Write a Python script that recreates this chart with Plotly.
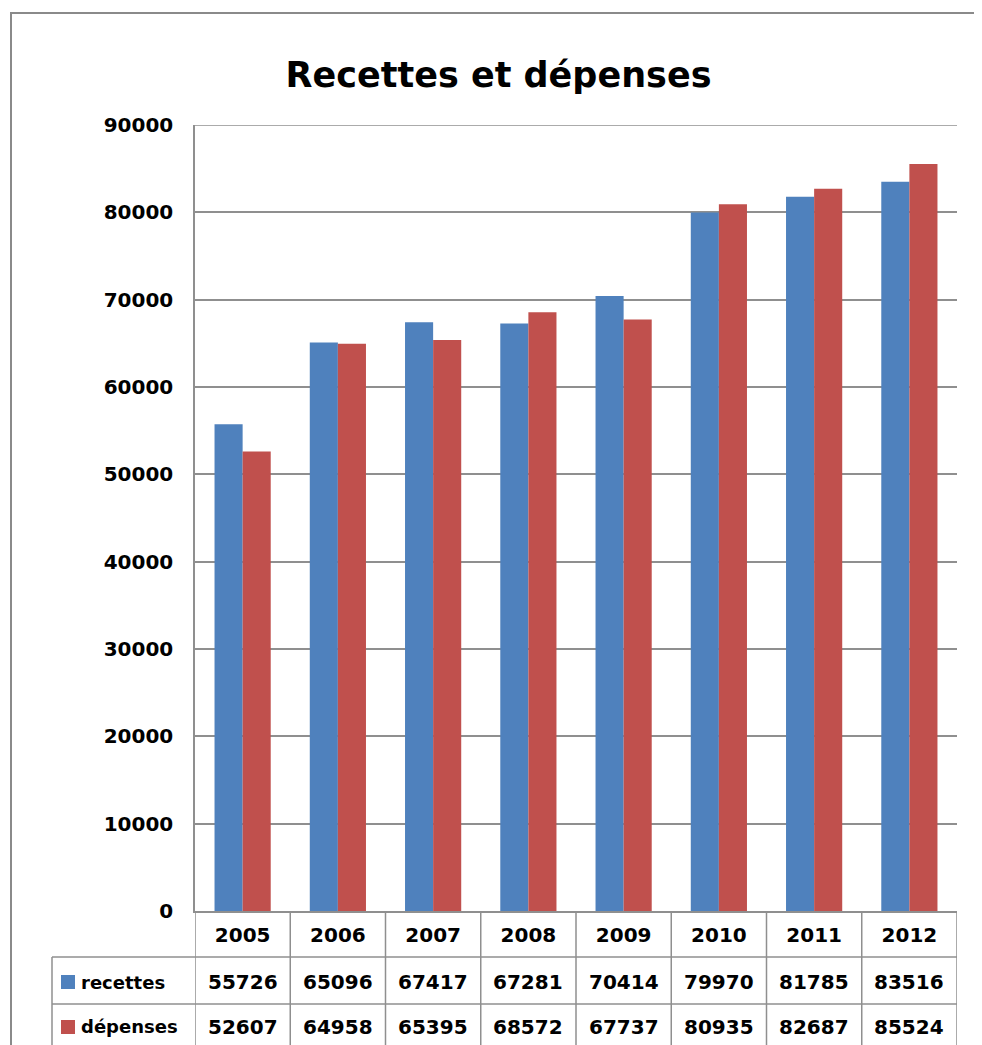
import plotly.graph_objects as go

years = ["2005", "2006", "2007", "2008", "2009", "2010", "2011", "2012"]
recettes = [55726, 65096, 67417, 67281, 70414, 79970, 81785, 83516]
depenses = [52607, 64958, 65395, 68572, 67737, 80935, 82687, 85524]
series_names = ["recettes", "dépenses"]
series_colors = ["#4F81BD", "#C0504D"]
title_text = "Recettes et dépenses"
y_max = 90000
y_step = 10000

# page body has an 8px margin: work in reference pixels, shifted by 8
OFF = 8
W, H = 982 - OFF, 1045 - OFF
L, T = 195 - OFF, 125 - OFF
BOTTOM = 911 - OFF
RIGHT = 957 - OFF
R, B = W - RIGHT, H - BOTTOM
PW, PH = W - L - R, H - T - B

def px(X):
    return (X - OFF - L) / PW

def py(Y):
    return (BOTTOM - (Y - OFF)) / PH

FONT = "DejaVu Sans"
GRID = "#8f8f8f"

fig = go.Figure()
for name, vals, col in zip(series_names, [recettes, depenses], series_colors):
    fig.add_trace(go.Bar(x=years, y=vals, name=name, marker=dict(color=col, line=dict(width=0))))

shapes = []
# outer chart frame
shapes.append(dict(type="rect", xref="paper", yref="paper", x0=px(11), x1=px(1010), y0=py(1100), y1=py(13),
                   line=dict(color="#8a8a8a", width=2), layer="above"))
# top gridline at range maximum
shapes.append(dict(type="line", xref="paper", yref="y", x0=0, x1=1, y0=y_max, y1=y_max,
                   line=dict(color=GRID, width=1.5)))
# table vertical lines at category boundaries
n = len(years)
for i in range(n + 1):
    shapes.append(dict(type="line", xref="x", yref="paper", x0=i - 0.5, x1=i - 0.5, y0=py(1070), y1=0,
                       line=dict(color=GRID, width=1.5)))
# table horizontal lines
for Y in [957, 1004]:
    shapes.append(dict(type="line", xref="paper", yref="paper", x0=px(52), x1=1, y0=py(Y), y1=py(Y),
                       line=dict(color=GRID, width=1.5)))
# left border of label column
shapes.append(dict(type="line", xref="paper", yref="paper", x0=px(52), x1=px(52), y0=py(1070), y1=py(957),
                   line=dict(color=GRID, width=1.5)))

annotations = []
row_centers = [982, 1027]
for name, vals, col, Yc in zip(series_names, [recettes, depenses], series_colors, row_centers):
    shapes.append(dict(type="rect", xref="paper", yref="paper", x0=px(61), x1=px(75), y0=py(Yc + 7), y1=py(Yc - 7),
                       fillcolor=col, line=dict(width=0)))
    annotations.append(dict(text=name, xref="paper", yref="paper", x=px(79), y=py(Yc), xanchor="left", yanchor="middle",
                            showarrow=False, font=dict(family=FONT, size=18, color="black", weight="bold")))
    for i, v in enumerate(vals):
        annotations.append(dict(text=str(v), xref="x", yref="paper", x=i, y=py(Yc), xanchor="center", yanchor="middle",
                                showarrow=False, font=dict(family=FONT, size=20, color="black", weight="bold")))

fig.update_layout(
    width=W, height=H,
    margin=dict(l=L, r=R, t=T, b=B, autoexpand=False),
    paper_bgcolor="white", plot_bgcolor="white",
    title=dict(text=title_text, x=(498.5 - OFF) / W, xanchor="center", y=1 - (75 - OFF) / H, yanchor="middle",
               yref="container", font=dict(family=FONT, size=35, color="black", weight="bold")),
    barmode="group", bargap=0.41, bargroupgap=0,
    showlegend=False,
    shapes=shapes, annotations=annotations,
    xaxis=dict(type="category", range=[-0.5, n - 0.5], autorange=False, showline=True, linecolor=GRID, linewidth=1.5,
               showgrid=False, ticks="",
               tickfont=dict(family=FONT, size=20, color="black", weight="bold"), ticklabelstandoff=5),
    yaxis=dict(range=[0, y_max], dtick=y_step, tickformat="d", showline=True, linecolor=GRID, linewidth=1.5,
               showgrid=True, gridcolor=GRID, gridwidth=1.5, zeroline=False, ticks="",
               tickfont=dict(family=FONT, size=20, color="black", weight="bold"), ticklabelstandoff=16),
)

fig.write_html("out.html")
